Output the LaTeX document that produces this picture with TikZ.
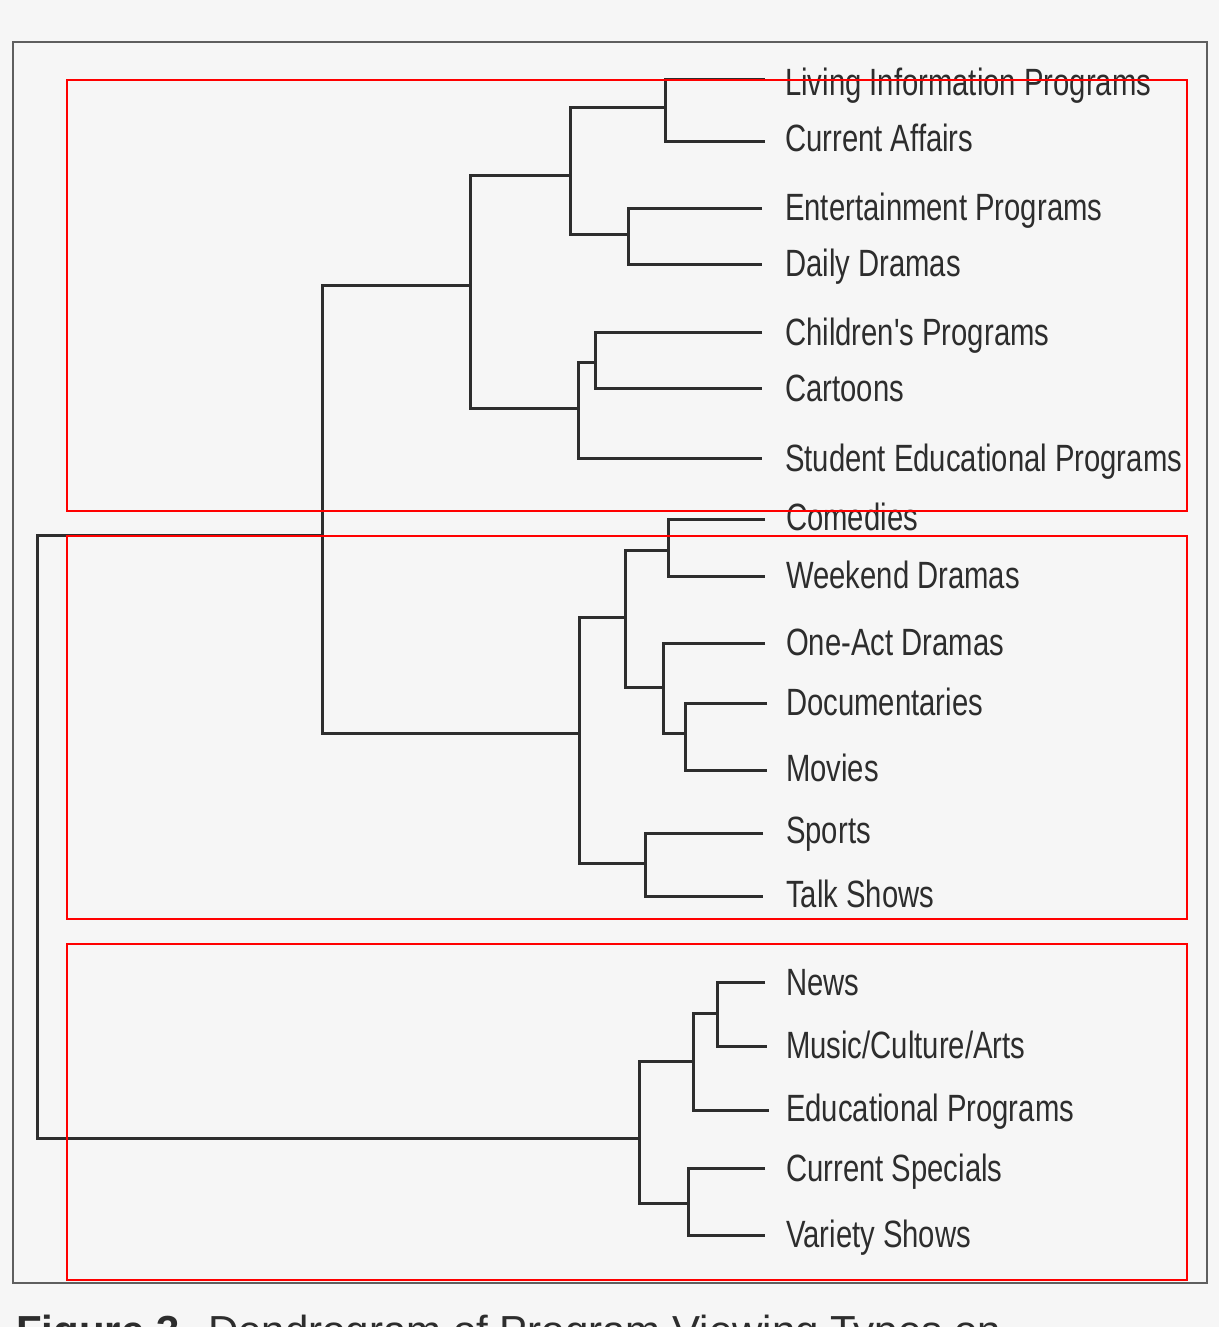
\documentclass[tikz,border=0pt]{standalone}
\usepackage{fontspec}
\setmainfont{Liberation Sans}
\newfontfamily\labfont{Liberation Sans}[FakeStretch=0.77]
\definecolor{paper}{RGB}{246,246,246}
\definecolor{ink}{RGB}{45,45,45}
\definecolor{framec}{RGB}{95,95,95}
\tikzset{
  lab/.style={anchor=base west, inner sep=0pt, text=ink, font=\labfont\fontsize{38}{42}\selectfont},
  captionlab/.style={anchor=base west, inner sep=0pt, text=ink, font=\fontsize{42}{46}\selectfont},
  branch/.style={draw=ink, line width=3pt, line join=miter},
  groupbox/.style={draw=red, line width=2.8pt},
  framebox/.style={draw=framec, line width=2pt}
}
\begin{document}
\begin{tikzpicture}[x=1pt,y=-1pt]
\useasboundingbox (0,0) rectangle (1219,1327);
\clip (0,0) rectangle (1219,1327);
\fill[paper] (0,0) rectangle (1219,1327);
\draw[framebox] (13,42) rectangle (1207,1283);

% leaf labels
\node[lab] (t1)  at (785,96)   {Living Information Programs};
\node[lab] (t2)  at (785,151)  {Current Affairs};
\node[lab] (t3)  at (785,220)  {Entertainment Programs};
\node[lab] (t4)  at (785,276)  {Daily Dramas};
\node[lab] (t5)  at (785,345)  {Children's Programs};
\node[lab] (t6)  at (785,401)  {Cartoons};
\node[lab] (t7)  at (785,471)  {Student Educational Programs};
\node[lab] (t8)  at (786,530)  {Comedies};
\node[lab] (t9)  at (786,588)  {Weekend Dramas};
\node[lab] (t10) at (786,655)  {One-Act Dramas};
\node[lab] (t11) at (786,715)  {Documentaries};
\node[lab] (t12) at (786,781)  {Movies};
\node[lab] (t13) at (786,843)  {Sports};
\node[lab] (t14) at (786,907)  {Talk Shows};
\node[lab] (t15) at (786,995)  {News};
\node[lab] (t16) at (786,1058) {Music/Culture/Arts};
\node[lab] (t17) at (786,1121) {Educational Programs};
\node[lab] (t18) at (786,1181) {Current Specials};
\node[lab] (t19) at (786,1247) {Variety Shows};

% leaf line ends
\coordinate (l1)  at (765,80);
\coordinate (l2)  at (765,141);
\coordinate (l3)  at (762,208);
\coordinate (l4)  at (762,264);
\coordinate (l5)  at (762,332);
\coordinate (l6)  at (762,388);
\coordinate (l7)  at (762,458);
\coordinate (l8)  at (765,519);
\coordinate (l9)  at (765,576);
\coordinate (l10) at (765,643);
\coordinate (l11) at (767,703);
\coordinate (l12) at (767,770);
\coordinate (l13) at (763,833);
\coordinate (l14) at (763,896);
\coordinate (l15) at (765,982);
\coordinate (l16) at (767,1046);
\coordinate (l17) at (769,1110);
\coordinate (l18) at (765,1168);
\coordinate (l19) at (765,1235);

% merge points
\coordinate (mA) at (665,108);
\coordinate (mB) at (628,234);
\coordinate (mC) at (570,175);
\coordinate (mD) at (595,362);
\coordinate (mE) at (578,408);
\coordinate (mF) at (470,285);
\coordinate (mG) at (668,550);
\coordinate (mH) at (685,733);
\coordinate (mI) at (663,687);
\coordinate (mJ) at (625,617);
\coordinate (mK) at (645,863);
\coordinate (mM) at (579,733);
\coordinate (mN) at (322,535);
\coordinate (mO) at (717,1013);
\coordinate (mP) at (693,1061);
\coordinate (mQ) at (688,1203);
\coordinate (mR) at (639,1138);
\coordinate (root) at (37,836);

% branches
\draw[branch] (l1) -| (mA) |- (l2);
\draw[branch] (l3) -| (mB) |- (l4);
\draw[branch] (mA) -| (mC) |- (mB);
\draw[branch] (l5) -| (mD) |- (l6);
\draw[branch] (mD) -| (mE) |- (l7);
\draw[branch] (mC) -| (mF) |- (mE);
\draw[branch] (l8) -| (mG) |- (l9);
\draw[branch] (l11) -| (mH) |- (l12);
\draw[branch] (l10) -| (mI) |- (mH);
\draw[branch] (mG) -| (mJ) |- (mI);
\draw[branch] (l13) -| (mK) |- (l14);
\draw[branch] (mJ) -| (mM) |- (mK);
\draw[branch] (mF) -| (mN) |- (mM);
\draw[branch] (l15) -| (mO) |- (l16);
\draw[branch] (mO) -| (mP) |- (l17);
\draw[branch] (l18) -| (mQ) |- (l19);
\draw[branch] (mP) -| (mR) |- (mQ);
\draw[branch] (mN) -| (root) |- (mR);

% caption (cut off by the page edge, as in the reference)
\node[captionlab, font=\bfseries\fontsize{42}{46}\selectfont] (capnum) at (16,1345) {Figure 3};
\node[captionlab] (captext) at (208,1345) {Dendrogram of Program Viewing Types on};

% group boxes
\draw[groupbox] (67,80) rectangle (1187,511);
\draw[groupbox] (67,536) rectangle (1187,919);
\draw[groupbox] (67,944) rectangle (1187,1280);
\end{tikzpicture}
\end{document}
